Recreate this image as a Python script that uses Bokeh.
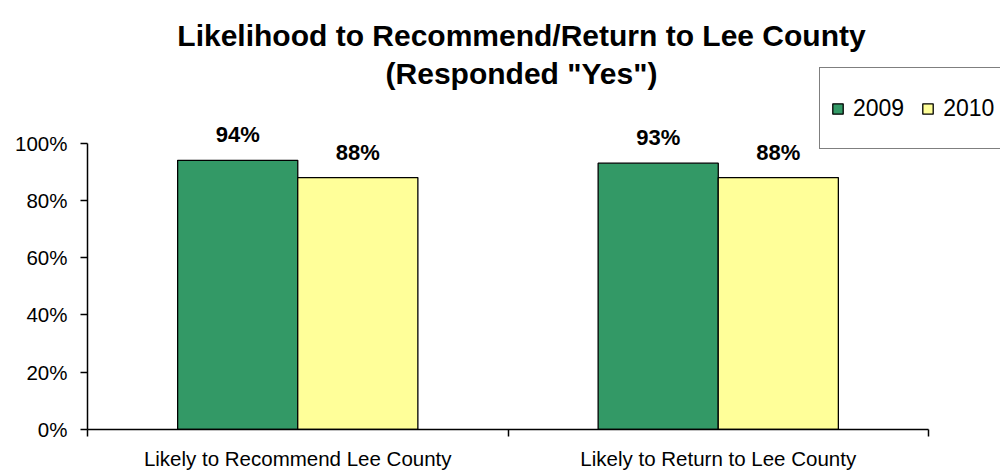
import numpy as np
from bokeh.plotting import figure
from bokeh.models import (Range1d, FixedTicker, Label, LabelSet, Legend, LegendItem,
                          ColumnDataSource)
from bokeh.transform import dodge
from bokeh.core.properties import value
from bokeh.embed import file_html
from bokeh.resources import INLINE

# ---- data ----
categories = ["Likely to Recommend Lee County", "Likely to Return to Lee County"]
series_names = ["2009", "2010"]
values_2009 = [94, 93]
values_2010 = [88, 88]
y_ticks = [0, 20, 40, 60, 80, 100]
y_tick_labels = ["0%", "20%", "40%", "60%", "80%", "100%"]
title_lines = ["Likelihood to Recommend/Return to Lee County", "(Responded \"Yes\")"]
colors = ["#339966", "#FFFF99"]

FONT = "Liberation Sans"

# ---- layout (pixels) ----
W, H = 1000, 472
left, bottom = 87, 42          # borders
plot_top_px, plot_right_px = 143, 928   # where 100% and the last category edge sit
frame_w = W - left
frame_h = H - bottom
y_max = 100
y_end = y_max * frame_h / (H - bottom - plot_top_px)
n = len(categories)
x_end = n * frame_w / (plot_right_px - left)

p = figure(width=W, height=H, output_backend="svg", toolbar_location=None,
           x_range=Range1d(0, x_end), y_range=Range1d(0, y_end),
           min_border_left=left, min_border_right=0, min_border_top=0,
           min_border_bottom=bottom)
p.outline_line_color = None
p.grid.visible = False
p.background_fill_color = "white"
p.border_fill_color = "white"

centers = np.arange(n) + 0.5
src = ColumnDataSource(dict(
    x=centers,
    v09=values_2009,
    v10=values_2010,
    l09=[f"{v}%" for v in values_2009],
    l10=[f"{v}%" for v in values_2010],
))

bw = 0.2857
off = 0.1428
r1 = p.vbar(x=dodge("x", -off), top="v09", width=bw, source=src,
            fill_color=colors[0], line_color="black", line_width=1.3)
r2 = p.vbar(x=dodge("x", off), top="v10", width=bw, source=src,
            fill_color=colors[1], line_color="black", line_width=1.3)

for ycol, tcol, sgn in [("v09", "l09", -1), ("v10", "l10", 1)]:
    ls = LabelSet(x=dodge("x", sgn * off), y=ycol, text=tcol, source=src,
                  text_align="center", text_baseline="alphabetic", y_offset=18,
                  text_font=value(FONT), text_font_style="bold",
                  text_font_size="22px", text_color="black")
    p.add_layout(ls)

# x axis
xa = p.xaxis[0]
xa.bounds = (0, n)
xa.ticker = FixedTicker(ticks=list(centers), minor_ticks=list(np.arange(n + 1)))
xa.major_label_overrides = {float(c): cat for c, cat in zip(centers, categories)}
xa.major_tick_line_color = None
xa.major_tick_out = 0
xa.major_tick_in = 0
xa.minor_tick_in = 0
xa.minor_tick_out = 7
xa.minor_tick_line_color = "black"
xa.minor_tick_line_width = 1.5
xa.axis_line_color = "black"
xa.axis_line_width = 1.5
xa.major_label_standoff = 10
xa.major_label_text_font = FONT
xa.major_label_text_font_size = "20.5px"
xa.major_label_text_color = "black"

# y axis
ya = p.yaxis[0]
ya.bounds = (0, y_max)
ya.ticker = FixedTicker(ticks=y_ticks)
ya.major_label_overrides = {t: l for t, l in zip(y_ticks, y_tick_labels)}
ya.major_tick_in = 0
ya.major_tick_out = 7
ya.major_tick_line_color = "black"
ya.major_tick_line_width = 1.5
ya.minor_tick_line_color = None
ya.axis_line_color = "black"
ya.axis_line_width = 1.5
ya.major_label_standoff = 13
ya.major_label_text_font = FONT
ya.major_label_text_font_size = "20.5px"
ya.major_label_text_color = "black"

# title (two lines), positioned in screen px relative to the frame
for txt, yy in zip(title_lines, [frame_h - 36, frame_h - 74]):
    p.add_layout(Label(x=521 - left, y=yy, x_units="screen", y_units="screen",
                       text=txt, text_align="center", text_baseline="alphabetic",
                       text_font=FONT, text_font_style="bold",
                       text_font_size="30px", text_color="black"))

legend = Legend(items=[LegendItem(label=series_names[0], renderers=[r1]),
                       LegendItem(label=series_names[1], renderers=[r2])],
                orientation="horizontal", location=(819 - left, frame_h - 150),
                border_line_color="black", border_line_width=1.5,
                background_fill_color="white", background_fill_alpha=1.0,
                glyph_width=13, glyph_height=13, label_standoff=9, spacing=17,
                padding=11, label_height=58, margin=0,
                label_text_font=FONT, label_text_font_size="23px",
                label_text_color="black")
p.add_layout(legend, "center")

open("out.html", "w").write(file_html(p, INLINE))
